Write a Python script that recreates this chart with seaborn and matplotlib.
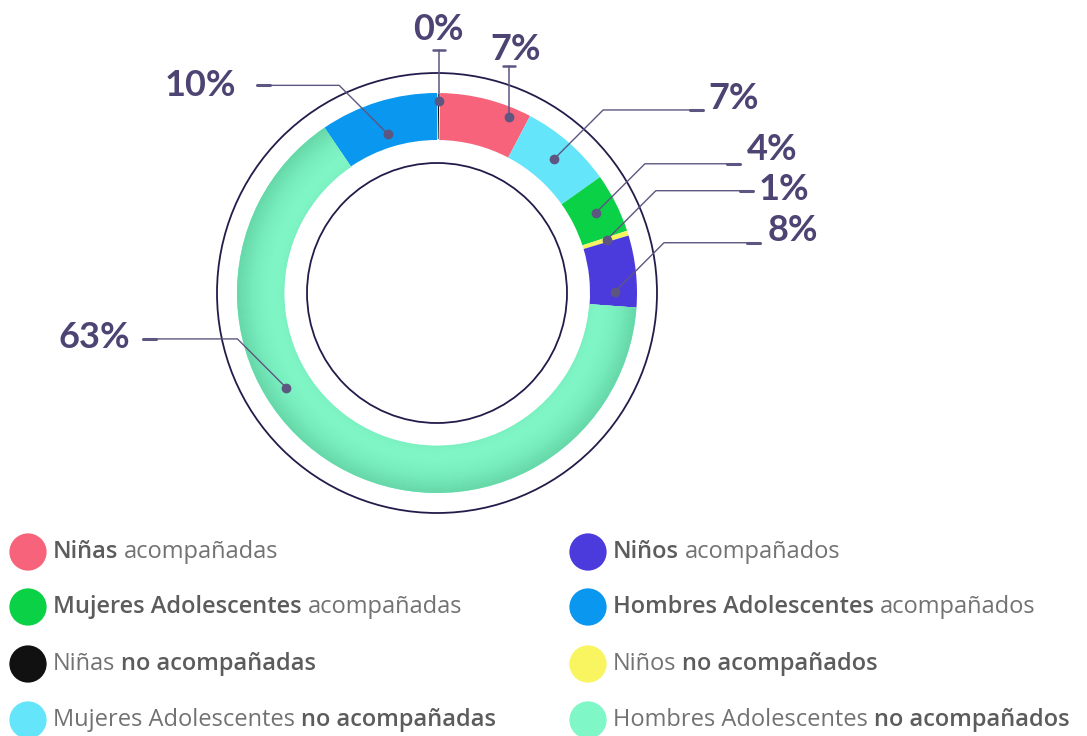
import numpy as np
import seaborn as sns
import matplotlib.pyplot as plt
from matplotlib.patches import Circle, Wedge
from matplotlib.colors import to_rgb

# ---------------------------------------------------------------- data
groups = [
    "Niñas no acompañadas",
    "Niñas acompañadas",
    "Mujeres Adolescentes no acompañadas",
    "Mujeres Adolescentes acompañadas",
    "Niños no acompañados",
    "Niños acompañados",
    "Hombres Adolescentes no acompañados",
    "Hombres Adolescentes acompañados",
]
# share of each wedge as drawn (clockwise from the top)
shares = [0.25, 7.45, 7.45, 4.8, 0.4, 5.8, 64.3, 9.5]
pct_labels = ["0%", "7%", "7%", "4%", "1%", "8%", "63%", "10%"]
colors = ["#111111", "#f6637a", "#65e5fa", "#0bd146",
          "#f8f560", "#4b3bdd", "#80f7c7", "#0a97f0"]

legend_left = [1, 3, 0, 2]
legend_right = [5, 7, 4, 6]

# ---------------------------------------------------------------- layout (pixels of the 1087x736 canvas)
W, H = 1087, 736
CX, CY, R_PX = 437, 293, 200

def px(x, y):
    return (x - CX) / R_PX, (CY - y) / R_PX

# per label: text centre, leader style, where the dot sits inside the wedge
# (frac = 0 at the clockwise start of the wedge, 1 at its end)
leaders = [
    dict(xy=(438, 30), kind="v", top=50, frac=0.5, r=0.96),
    dict(xy=(516, 50), kind="v", top=66, frac=0.8, r=0.95),
    dict(xy=(734, 99), kind="d", end=703, frac=0.5, r=0.89),
    dict(xy=(772, 150), kind="d", end=740, frac=0.5, r=0.89),
    dict(xy=(784, 190), kind="d", end=753, frac=0.5, r=0.89),
    dict(xy=(793, 231), kind="d", end=760, frac=0.78, r=0.89),
    dict(xy=(94, 338), kind="d", end=143, frac=0.62, r=0.89),
    dict(xy=(200, 86), kind="d", end=257, frac=0.5, r=0.83),
]

LABEL_C = "#4d4473"
LINE_C = "#5d5680"
RING_C = "#221c4a"
TXT_NORM = "#727272"
TXT_BOLD = "#5c5c5c"

sns.set_theme(style="white")
plt.rcParams["font.family"] = ["Lato", "DejaVu Sans"]

fig = plt.figure(figsize=(W / 100, H / 100), dpi=100)
ax = fig.add_axes([0, 0, 1, 1])

wedges, _ = ax.pie(shares, colors=colors, startangle=90, counterclock=False,
                   radius=1.0, wedgeprops=dict(width=0.235, edgecolor="none"))
wedges[0].set_edgecolor("white")
wedges[0].set_linewidth(1.2)

# soft tube shading on the big mint wedge
mint = wedges[6]
light = np.array(to_rgb("#82f9c9"))
dark = np.array(to_rgb("#5ccb9c"))
n = 24
r_in = 1.0 - 0.235
for k in range(n):
    t = (k + 0.5) / n
    f = 0.75 * t ** 2.0 + 0.2 * (1 - t) ** 6
    col = light * (1 - f) + dark * f
    ax.add_patch(Wedge((0, 0), r_in + 0.235 * (k + 1) / n, mint.theta1, mint.theta2,
                       width=0.235 / n + 0.002, facecolor=col, edgecolor="none", zorder=1.5))

# thin guide circles
ax.add_patch(Circle((0, 0), 1.10, fill=False, edgecolor=RING_C, lw=1.3, zorder=3))
ax.add_patch(Circle((0, 0), 0.65, fill=False, edgecolor=RING_C, lw=1.3, zorder=3))

# leader lines and percentage labels
diag = 49 / R_PX
dash = 13 / R_PX
for w, lab, ld in zip(wedges, pct_labels, leaders):
    # clockwise pie: theta2 is where the wedge starts
    ang = np.deg2rad(w.theta2 - ld["frac"] * (w.theta2 - w.theta1))
    dx, dy = ld["r"] * np.cos(ang), ld["r"] * np.sin(ang)
    if ld["kind"] == "v":
        ty = px(0, ld["top"])[1]
        ax.plot([dx, dx], [dy, ty], color=LINE_C, lw=1.1, zorder=4)
        ax.plot([dx - 0.03, dx + 0.03], [ty, ty], color=LINE_C, lw=1.8, zorder=4)
    else:
        sx = np.sign(dx)
        ex, ey = dx + sx * diag, dy + diag
        endx = px(ld["end"], 0)[0]
        ax.plot([dx, ex, endx - sx * dash], [dy, ey, ey], color=LINE_C, lw=1.0, zorder=4)
        ax.plot([endx - sx * dash, endx], [ey, ey], color=LINE_C, lw=2.2, zorder=4)
    ax.plot(dx, dy, "o", color=LINE_C, ms=6, zorder=5)
    lx, ly = px(*ld["xy"])
    ax.text(lx, ly, lab, ha="center", va="center", fontsize=26,
            fontweight="bold", color=LABEL_C, zorder=6)

# legend drawn by hand (mixed bold / regular text)
LEG_FONT = ["Open Sans", "DejaVu Sans"]
LEG_SIZE = 17.0

def legend_item(idx, x, y):
    name = groups[idx]
    mx, my = px(x, y)
    ax.scatter([mx], [my], s=720, color=colors[idx], edgecolor="none", zorder=5)
    if "no acompa" in name:
        cut = name.index("no acompa")
        parts = [(name[:cut].strip(), "normal", TXT_NORM), (name[cut:], "semibold", TXT_BOLD)]
    else:
        cut = name.rindex(" acompa")
        parts = [(name[:cut], "semibold", TXT_BOLD), (name[cut + 1:], "normal", TXT_NORM)]
    tx, ty = px(x + 25, y)
    t1 = ax.text(tx, ty, parts[0][0], ha="left", va="center", fontsize=LEG_SIZE,
                 fontweight=parts[0][1], color=parts[0][2], family=LEG_FONT)
    ax.annotate(parts[1][0], xy=(1, 0), xycoords=t1, xytext=(4.2, 0),
                textcoords="offset points", ha="left", va="bottom", fontsize=LEG_SIZE,
                fontweight=parts[1][1], color=parts[1][2], family=LEG_FONT)

rows_y = [552, 607, 664, 720]
for idx, y in zip(legend_left, rows_y):
    legend_item(idx, 28, y)
for idx, y in zip(legend_right, rows_y):
    legend_item(idx, 588, y)

x0, y0 = px(0, H)
x1, y1 = px(W, 0)
ax.set_xlim(x0, x1)
ax.set_ylim(y0, y1)
ax.set_aspect("equal")
ax.axis("off")

fig.savefig("out.png", dpi=100)
